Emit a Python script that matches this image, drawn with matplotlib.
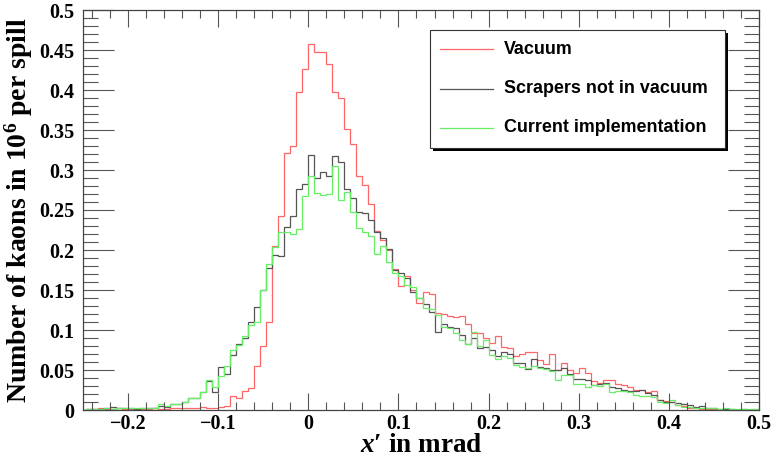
import numpy as np
import matplotlib
matplotlib.use("Agg")
import matplotlib.pyplot as plt
from matplotlib.ticker import MultipleLocator, FuncFormatter

# bin width 1/150 mrad, first bin starts at -38/150, last ends at 75/150
bin_lo, bin_hi, nper = -38, 75, 150

# Vacuum (red)
vacuum_neg = [0.000, 0.001, 0.001, 0.002, 0.001, 0.001, 0.002, 0.001, 0.001, 0.001,
              0.001, 0.001, 0.002, 0.001, 0.001, 0.002, 0.002,
              0.002, 0.002, 0.002, 0.004,
              0.003, 0.003, 0.004, 0.005, 0.017, 0.015, 0.024, 0.028, 0.055, 0.080,
              0.110, 0.205, 0.242, 0.321, 0.330, 0.398, 0.426]
vacuum_pos = [0.458, 0.448, 0.447, 0.433, 0.397, 0.390, 0.351, 0.332, 0.292, 0.281,
              0.258, 0.224, 0.212, 0.200, 0.176, 0.155, 0.167, 0.150, 0.134, 0.148,
              0.145, 0.121, 0.120, 0.117, 0.116, 0.117, 0.108, 0.096, 0.096, 0.090,
              0.084, 0.092, 0.079, 0.077, 0.068, 0.070, 0.072, 0.072, 0.062, 0.058,
              0.070, 0.050, 0.059, 0.050, 0.046, 0.052, 0.046, 0.036, 0.034, 0.0375,
              0.037, 0.033, 0.031, 0.029, 0.025, 0.025, 0.023, 0.024, 0.012, 0.011,
              0.010, 0.006, 0.005, 0.002, 0.002, 0.001, 0.001, 0.001, 0.000, 0.001,
              0.000, 0.000, 0.000, 0.000, 0.000]

# Scrapers not in vacuum (black)
scrapers_neg = [0.000, 0.001, 0.001, 0.001, 0.002, 0.004, 0.002, 0.003, 0.002, 0.001,
                0.002, 0.002, 0.003, 0.005, 0.004, 0.007, 0.008,
                0.0096, 0.0146, 0.0146, 0.023,
                0.0367, 0.023, 0.054, 0.045, 0.069, 0.083, 0.0896, 0.110, 0.129, 0.150,
                0.177, 0.194, 0.193, 0.229, 0.243, 0.276, 0.283]
scrapers_pos = [0.319, 0.290, 0.298, 0.292, 0.317, 0.310, 0.276, 0.265, 0.248, 0.246,
                0.2375, 0.223, 0.215, 0.201, 0.175, 0.171, 0.165, 0.148, 0.140, 0.133,
                0.123, 0.097, 0.108, 0.104, 0.102, 0.094, 0.083, 0.090, 0.077, 0.079,
                0.075, 0.067, 0.073, 0.070, 0.059, 0.059, 0.051, 0.064, 0.054, 0.053,
                0.050, 0.050, 0.052, 0.045, 0.039, 0.039, 0.0375, 0.031, 0.0325, 0.034,
                0.029, 0.027, 0.025, 0.024, 0.024, 0.025, 0.021, 0.019, 0.0125, 0.0104,
                0.0104, 0.009, 0.0075, 0.006, 0.004, 0.005, 0.002, 0.002, 0.001, 0.001,
                0.001, 0.000, 0.001, 0.000, 0.000]

# Current implementation (green)
current_neg = [0.000, 0.001, 0.001, 0.001, 0.002, 0.001, 0.002, 0.002, 0.003, 0.003,
               0.002, 0.002, 0.002, 0.007, 0.005, 0.008, 0.007,
               0.0096, 0.0146, 0.0146, 0.023,
               0.0375, 0.029, 0.0425, 0.055, 0.075, 0.081, 0.092, 0.106, 0.110, 0.150,
               0.183, 0.204, 0.223, 0.223, 0.220, 0.226, 0.268]
current_pos = [0.292, 0.271, 0.269, 0.270, 0.305, 0.262, 0.272, 0.248, 0.228, 0.222,
               0.217, 0.195, 0.205, 0.185, 0.171, 0.167, 0.156, 0.154, 0.140, 0.127,
               0.126, 0.119, 0.104, 0.102, 0.096, 0.088, 0.083, 0.098, 0.080, 0.087,
               0.069, 0.064, 0.067, 0.065, 0.056, 0.054, 0.053, 0.055, 0.052, 0.051,
               0.049, 0.0375, 0.044, 0.044, 0.033, 0.0325, 0.029, 0.031, 0.030, 0.032,
               0.023, 0.024, 0.024, 0.022, 0.019, 0.017, 0.017, 0.016, 0.010, 0.009,
               0.0125, 0.006, 0.004, 0.004, 0.003, 0.003, 0.002, 0.002, 0.0015, 0.002,
               0.001, 0.001, 0.001, 0.001, 0.001]

labels = ["Vacuum", "Scrapers not in vacuum", "Current implementation"]
colors = ["#ff6666", "#555555", "#66ee66"]

edges = np.arange(bin_lo, bin_hi + 1) / nper
series = [vacuum_neg + vacuum_pos, scrapers_neg + scrapers_pos, current_neg + current_pos]

plt.rcParams["mathtext.fontset"] = "custom"
plt.rcParams["mathtext.rm"] = "Liberation Serif:bold"
plt.rcParams["mathtext.it"] = "Liberation Serif:italic:bold"
plt.rcParams["mathtext.bf"] = "Liberation Serif:bold"

W, H = 776, 462
fig = plt.figure(figsize=(W / 100, H / 100), dpi=100)
ax = fig.add_axes([83 / W, 1 - 410 / H, 676 / W, 400 / H])

for vals, c, lab in zip(series, colors, labels):
    ax.stairs(vals, edges, color=c, linewidth=0.9, baseline=None, label=lab)

ax.set_xlim(-0.25, 0.5)
ax.set_ylim(0, 0.5)

ax.xaxis.set_major_locator(MultipleLocator(0.1))
ax.xaxis.set_minor_locator(MultipleLocator(0.02))
ax.yaxis.set_major_locator(MultipleLocator(0.05))
ax.yaxis.set_minor_locator(MultipleLocator(0.01))

def fmt(v, p):
    s = "%g" % round(v, 3)
    return s.replace("-", "\u2212")

ax.xaxis.set_major_formatter(FuncFormatter(fmt))
ax.yaxis.set_major_formatter(FuncFormatter(fmt))

ax.tick_params(which="both", direction="in", top=True, right=True, color="#555555")
ax.tick_params(axis="x", which="major", length=12, width=0.8, pad=3)
ax.tick_params(axis="x", which="minor", length=6, width=0.8)
ax.tick_params(axis="y", which="major", length=22, width=0.8, pad=6)
ax.tick_params(axis="y", which="minor", length=11, width=0.8)
for lab in ax.get_xticklabels() + ax.get_yticklabels():
    lab.set_fontfamily("Liberation Serif")
    lab.set_fontweight("bold")
    lab.set_fontsize(14.5)
for sp in ax.spines.values():
    sp.set_linewidth(0.9)
    sp.set_color("#444444")

ax.set_xlabel("$x\u2032$ in mrad", fontfamily="Liberation Serif", fontweight="bold",
              fontsize=19.5, labelpad=-1)
ax.set_ylabel(r"Number of kaons in 10$^{6}$ per spill", fontfamily="Liberation Serif",
              fontweight="bold", fontsize=20, labelpad=3)

# legend box with ROOT-like shadow
bx0, by0, bx1, by1 = 430 / W, 1 - 148 / H, 725 / W, 1 - 30 / H
shadow = plt.Rectangle((bx0 + 3 / W, by0 - 3 / H), bx1 - bx0, by1 - by0,
                       transform=fig.transFigure, facecolor="black", edgecolor="none",
                       zorder=5)
box = plt.Rectangle((bx0, by0), bx1 - bx0, by1 - by0, transform=fig.transFigure,
                    facecolor="white", edgecolor="#333333", linewidth=0.8, zorder=6)
fig.add_artist(shadow)
fig.add_artist(box)
for i, (c, lab) in enumerate(zip(colors, labels)):
    yy = 1 - (49 + 39.5 * i) / H
    fig.add_artist(plt.Line2D([440 / W, 493 / W], [yy, yy], transform=fig.transFigure,
                              color=c, linewidth=0.9, zorder=7))
    fig.text(504 / W, yy, lab, fontfamily="Liberation Sans", fontweight="bold",
             fontsize=12.9, va="center", ha="left", zorder=7)

fig.savefig("out.png", dpi=100)
